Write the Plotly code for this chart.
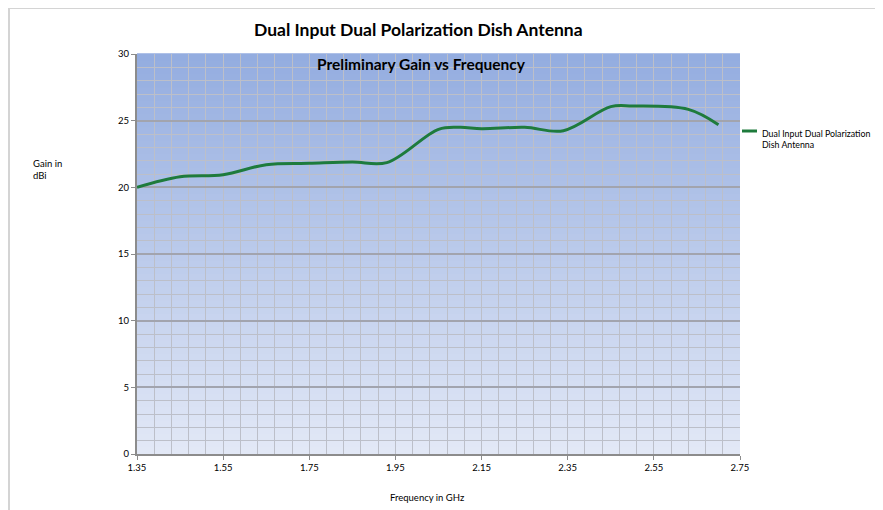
import plotly.graph_objects as go

freq_ghz = [1.35, 1.45, 1.55, 1.65, 1.75, 1.85, 1.93, 2.05, 2.10, 2.15, 2.25, 2.34, 2.45, 2.50, 2.63, 2.70]
gain_dbi = [20.0, 20.8, 20.95, 21.7, 21.8, 21.9, 21.85, 24.35, 24.5, 24.4, 24.5, 24.25, 26.05, 26.1, 25.85, 24.7]
x_ticks = [1.35, 1.55, 1.75, 1.95, 2.15, 2.35, 2.55, 2.75]
y_ticks = [0, 5, 10, 15, 20, 25, 30]
series_name = "Dual Input Dual Polarization<br>Dish Antenna"

FONT = "Lato, Carlito, Calibri, sans-serif"
LINE_COLOR = "#1e7b3c"

# page has 8px body margin -> figure coords = screen coords - 8
W, H = 875, 502
L, T, PW, PH = 129, 46, 603, 400
R, B = W - L - PW, H - T - PH

def px(sx):  # screen x -> paper x
    return (sx - 8 - L) / PW

def py(sy):  # screen y -> paper y
    return 1 - (sy - 8 - T) / PH

fig = go.Figure()
fig.add_trace(go.Scatter(
    x=freq_ghz, y=gain_dbi, mode="lines",
    line=dict(color=LINE_COLOR, width=3, shape="spline", smoothing=1.0),
    name=series_name, showlegend=False,
))

shapes = []
n = 60
top = (148, 173, 224)
bot = (226, 232, 246)
for i in range(n):
    f = i / (n - 1)
    c = tuple(round(bot[k] + (top[k] - bot[k]) * f) for k in range(3))
    shapes.append(dict(type="rect", xref="x domain", yref="y domain",
                       x0=0, x1=1, y0=i / n, y1=(i + 1) / n + 0.002,
                       fillcolor="rgb(%d,%d,%d)" % c, line=dict(width=0),
                       layer="below"))
# outer chart border
shapes.append(dict(type="rect", xref="paper", yref="paper",
                   x0=px(9), x1=px(1000), y0=py(8), y1=py(900),
                   line=dict(color="#d4d4d4", width=2), fillcolor="rgba(0,0,0,0)",
                   layer="above"))
# legend key line
shapes.append(dict(type="line", xref="paper", yref="paper",
                   x0=px(742), x1=px(757), y0=py(131), y1=py(131),
                   line=dict(color=LINE_COLOR, width=3)))

fig.update_layout(
    width=W, height=H,
    margin=dict(l=L, r=R, t=T, b=B, autoexpand=False),
    paper_bgcolor="white", plot_bgcolor="rgba(0,0,0,0)",
    font=dict(family=FONT, color="#000000"),
    shapes=shapes,
    showlegend=False,
    annotations=[
        dict(text="<b>Dual Input Dual Polarization Dish Antenna</b>", xref="paper", yref="paper",
             x=px(418), y=py(30), showarrow=False,
             font=dict(size=17.5, family=FONT), xanchor="center", yanchor="middle"),
        dict(text="<b>Preliminary Gain vs Frequency</b>", xref="paper", yref="paper",
             x=px(421), y=py(64), showarrow=False,
             font=dict(size=15.5, family=FONT), xanchor="center", yanchor="middle"),
        dict(text="Gain in<br>dBi", xref="paper", yref="paper",
             x=px(31), y=py(169), showarrow=False, align="left",
             font=dict(size=9.5, family=FONT), xanchor="left", yanchor="middle"),
        dict(text="Frequency in GHz", xref="paper", yref="paper",
             x=px(427), y=py(497), showarrow=False,
             font=dict(size=9.5, family=FONT), xanchor="center", yanchor="middle"),
        dict(text=series_name, xref="paper", yref="paper",
             x=px(760), y=py(139), showarrow=False, align="left",
             font=dict(size=8.8, family=FONT), xanchor="left", yanchor="middle"),
    ],
)

fig.update_xaxes(
    range=[1.35, 2.75], tickmode="array", tickvals=x_ticks,
    ticktext=["%.2f" % v for v in x_ticks],
    tickfont=dict(size=9.5, family=FONT),
    showgrid=True, gridcolor="#bcbfc9", gridwidth=1,
    minor=dict(tick0=1.35, dtick=0.04, showgrid=True, gridcolor="#bcbfc9", gridwidth=1),
    showline=True, linecolor="#8c8c8c", linewidth=2,
    ticks="outside", ticklen=4, tickcolor="#8c8c8c",
    zeroline=False, fixedrange=True,
)
fig.update_yaxes(
    range=[0, 30], tickmode="array", tickvals=y_ticks,
    tickfont=dict(size=9.5, family=FONT),
    showgrid=True, gridcolor="#a2a4ae", gridwidth=1.5,
    minor=dict(dtick=1, showgrid=True, gridcolor="#bcbfc9", gridwidth=1),
    showline=True, linecolor="#8c8c8c", linewidth=2,
    ticks="outside", ticklen=4, tickcolor="#8c8c8c",
    zeroline=False, fixedrange=True,
)

fig.write_html("out.html")
